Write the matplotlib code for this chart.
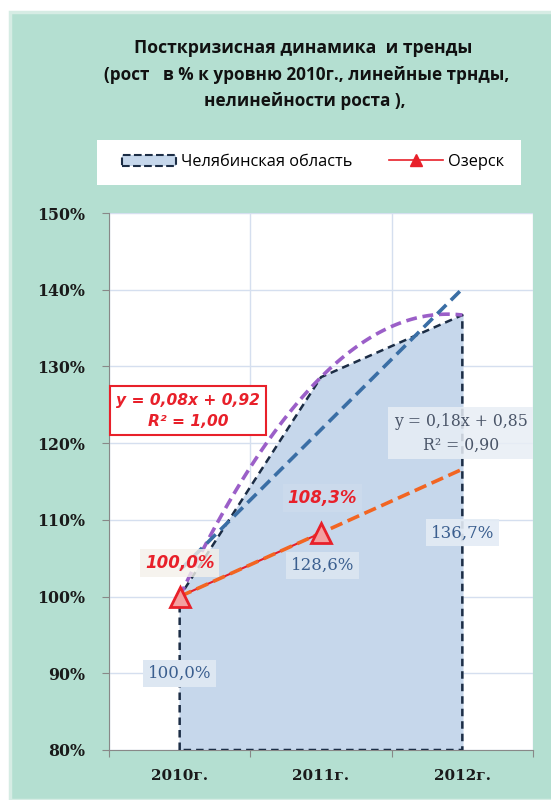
import numpy as np
import matplotlib.pyplot as plt
from matplotlib.patches import Rectangle, Patch
from matplotlib.lines import Line2D

years = ['2010г.', '2011г.', '2012г.']
chel = [100.0, 128.6, 136.7]
ozersk = [100.0, 108.3]
chel_labels = ['100,0%', '128,6%', '136,7%']
ozersk_labels = ['100,0%', '108,3%']
yticks = [80, 90, 100, 110, 120, 130, 140, 150]

plt.rcParams['font.family'] = ['Open Sans', 'DejaVu Sans']
serif = ['DejaVu Serif']
sans_num = ['DejaVu Sans']

fig = plt.figure(figsize=(5.51, 8.0), dpi=100)
fig.patch.set_facecolor('white')

# green panel behind everything
fig.patches.append(Rectangle((10 / 551, 0), 1, 1 - 12 / 800, transform=fig.transFigure,
                             facecolor='#b4dfd1', edgecolor='#d6ece4', linewidth=2.5, zorder=-3))

# title
fig.text(0.55, 1 - 48 / 800, 'Посткризисная динамика  и тренды', ha='center', va='center',
         fontsize=12.7, fontweight='bold', color='#111111')
fig.text(0.556, 1 - 75 / 800, '(рост   в % к уровню 2010г., линейные трнды,', ha='center',
         va='center', fontsize=12.3, fontweight='bold', color='#111111')
fig.text(0.553, 1 - 101 / 800, 'нелинейности роста ),', ha='center', va='center',
         fontsize=12.3, fontweight='bold', color='#111111')

# legend box
fig.patches.append(Rectangle((97 / 551, 1 - 185 / 800), 424 / 551, 45 / 800, transform=fig.transFigure,
                             facecolor='white', edgecolor='none', zorder=-2))
handles = [Patch(facecolor='#c6d7eb', edgecolor='#1c2d45', linestyle='--', linewidth=1.5),
           Line2D([0], [0], color='#e8202a', lw=1.2, marker='^', markersize=8,
                  markerfacecolor='#e8202a', markeredgecolor='#e8202a')]
fig.legend(handles, ['Челябинская область', 'Озерск'], loc='center',
           bbox_to_anchor=(313 / 551, 1 - 162 / 800), ncol=2, frameon=False,
           fontsize=11.8, columnspacing=2.2, handlelength=3.3, handletextpad=0.3)

ax = fig.add_axes([109 / 551, 1 - 750 / 800, (533 - 109) / 551, (750 - 213) / 800])
ax.set_facecolor('white')
x = np.arange(len(years))

# Chelyabinsk area
ax.fill_between(x, chel, 80, color='#c6d7eb', zorder=1)
ax.plot([0, 0, 1, 2, 2, 0], [80, chel[0], chel[1], chel[2], 80, 80], color='#1c2d45',
        lw=1.8, dashes=(3, 2), zorder=3)

# trends (index 1..3 as in Excel)
xi = x + 1
xs = np.linspace(1, 3, 100)
p2 = np.polyfit(xi, np.array(chel) / 100, 2)
ax.plot(xs - 1, np.polyval(p2, xs) * 100, color='#9b5fc8', lw=2.6, dashes=(3, 1.6), zorder=4)
p1 = np.polyfit(xi, np.array(chel) / 100, 1)
ax.plot([0, 2], np.polyval(p1, [1, 3]) * 100, color='#3a6ea5', lw=2.6, dashes=(3.5, 1.8), zorder=4)

# Ozersk
ax.plot(x[:2], ozersk, color='#e8202a', lw=1.5, zorder=5)
q1 = np.polyfit(xi[:2], np.array(ozersk) / 100, 1)
ax.plot([0, 2], np.polyval(q1, [1, 3]) * 100, color='#f26522', lw=2.6, dashes=(3.5, 1.6), zorder=6)
ax.plot(x[:2], ozersk, ls='none', marker='^', markersize=15, markerfacecolor='#f3a0a0',
        markeredgecolor='#e8202a', markeredgewidth=2, zorder=7)

# data labels
blue = '#3b5f8f'
ax.text(0, 90.0, chel_labels[0], ha='center', va='center', fontsize=12, color=blue, zorder=8,
        family=serif, bbox=dict(boxstyle='square,pad=0.3', fc='#dde7f2', ec='none'))
ax.text(1.01, 104.1, chel_labels[1], ha='center', va='center', fontsize=12, color=blue, zorder=8,
        family=serif, bbox=dict(boxstyle='square,pad=0.3', fc='#dde7f2', ec='none', alpha=0.85))
ax.text(2.0, 108.3, chel_labels[2], ha='center', va='center', fontsize=12, color=blue, zorder=8,
        family=serif, bbox=dict(boxstyle='square,pad=0.3', fc='#e4ecf5', ec='none', alpha=0.9))
ax.text(0, 104.4, ozersk_labels[0], ha='center', va='center', fontsize=12, color='#e8202a',
        fontweight='bold', style='italic', zorder=8, family=sans_num,
        bbox=dict(boxstyle='square,pad=0.3', fc='#f4f1ea', ec='none', alpha=0.8))
ax.text(1.01, 112.8, ozersk_labels[1], ha='center', va='center', fontsize=12, color='#e8202a',
        fontweight='bold', style='italic', zorder=8, family=sans_num,
        bbox=dict(boxstyle='square,pad=0.3', fc='#d3e0ee', ec='none', alpha=0.4))

# trend equations
ax.text(0.06, 124.2, 'y = 0,08x + 0,92\nR² = 1,00', ha='center', va='center', fontsize=11.2,
        color='#e8202a', fontweight='bold', style='italic', linespacing=1.55, zorder=8,
        family=sans_num, bbox=dict(boxstyle='square,pad=0.4', fc='white', ec='#e8202a', lw=1.5))
ax.text(1.99, 121.3, 'y = 0,18x + 0,85\nR² = 0,90', ha='center', va='center', fontsize=11.3,
        color='#4a5568', linespacing=1.5, zorder=8, family=serif,
        bbox=dict(boxstyle='square,pad=0.35', fc='#e8eef5', ec='none', alpha=0.85))

# axes styling
ax.set_xlim(-0.5, 2.5)
ax.set_ylim(80, 150)
ax.set_yticks(yticks)
ax.set_yticklabels([f'{v}%' for v in yticks], fontsize=11.3, fontweight='bold', color='#1a1a1a',
                   family=serif)
ax.set_xticks([-0.5, 0.5, 1.5, 2.5])
ax.set_xticklabels([])
ax.set_xticks(x, minor=True)
ax.set_xticklabels(years, minor=True, fontsize=11, fontweight='bold', color='#1a1a1a', family=serif)
ax.tick_params(axis='x', which='minor', length=0, pad=14)
ax.tick_params(axis='x', which='major', length=5, color='#888888')
ax.tick_params(axis='y', length=5, color='#888888', pad=12)
ax.grid(True, which='major', color='#d5dfef', lw=1, zorder=0)
ax.set_axisbelow(True)
for s in ['top', 'right']:
    ax.spines[s].set_visible(False)
for s in ['left', 'bottom']:
    ax.spines[s].set_color('#888888')

fig.savefig('out.png', dpi=100, facecolor=fig.get_facecolor())
